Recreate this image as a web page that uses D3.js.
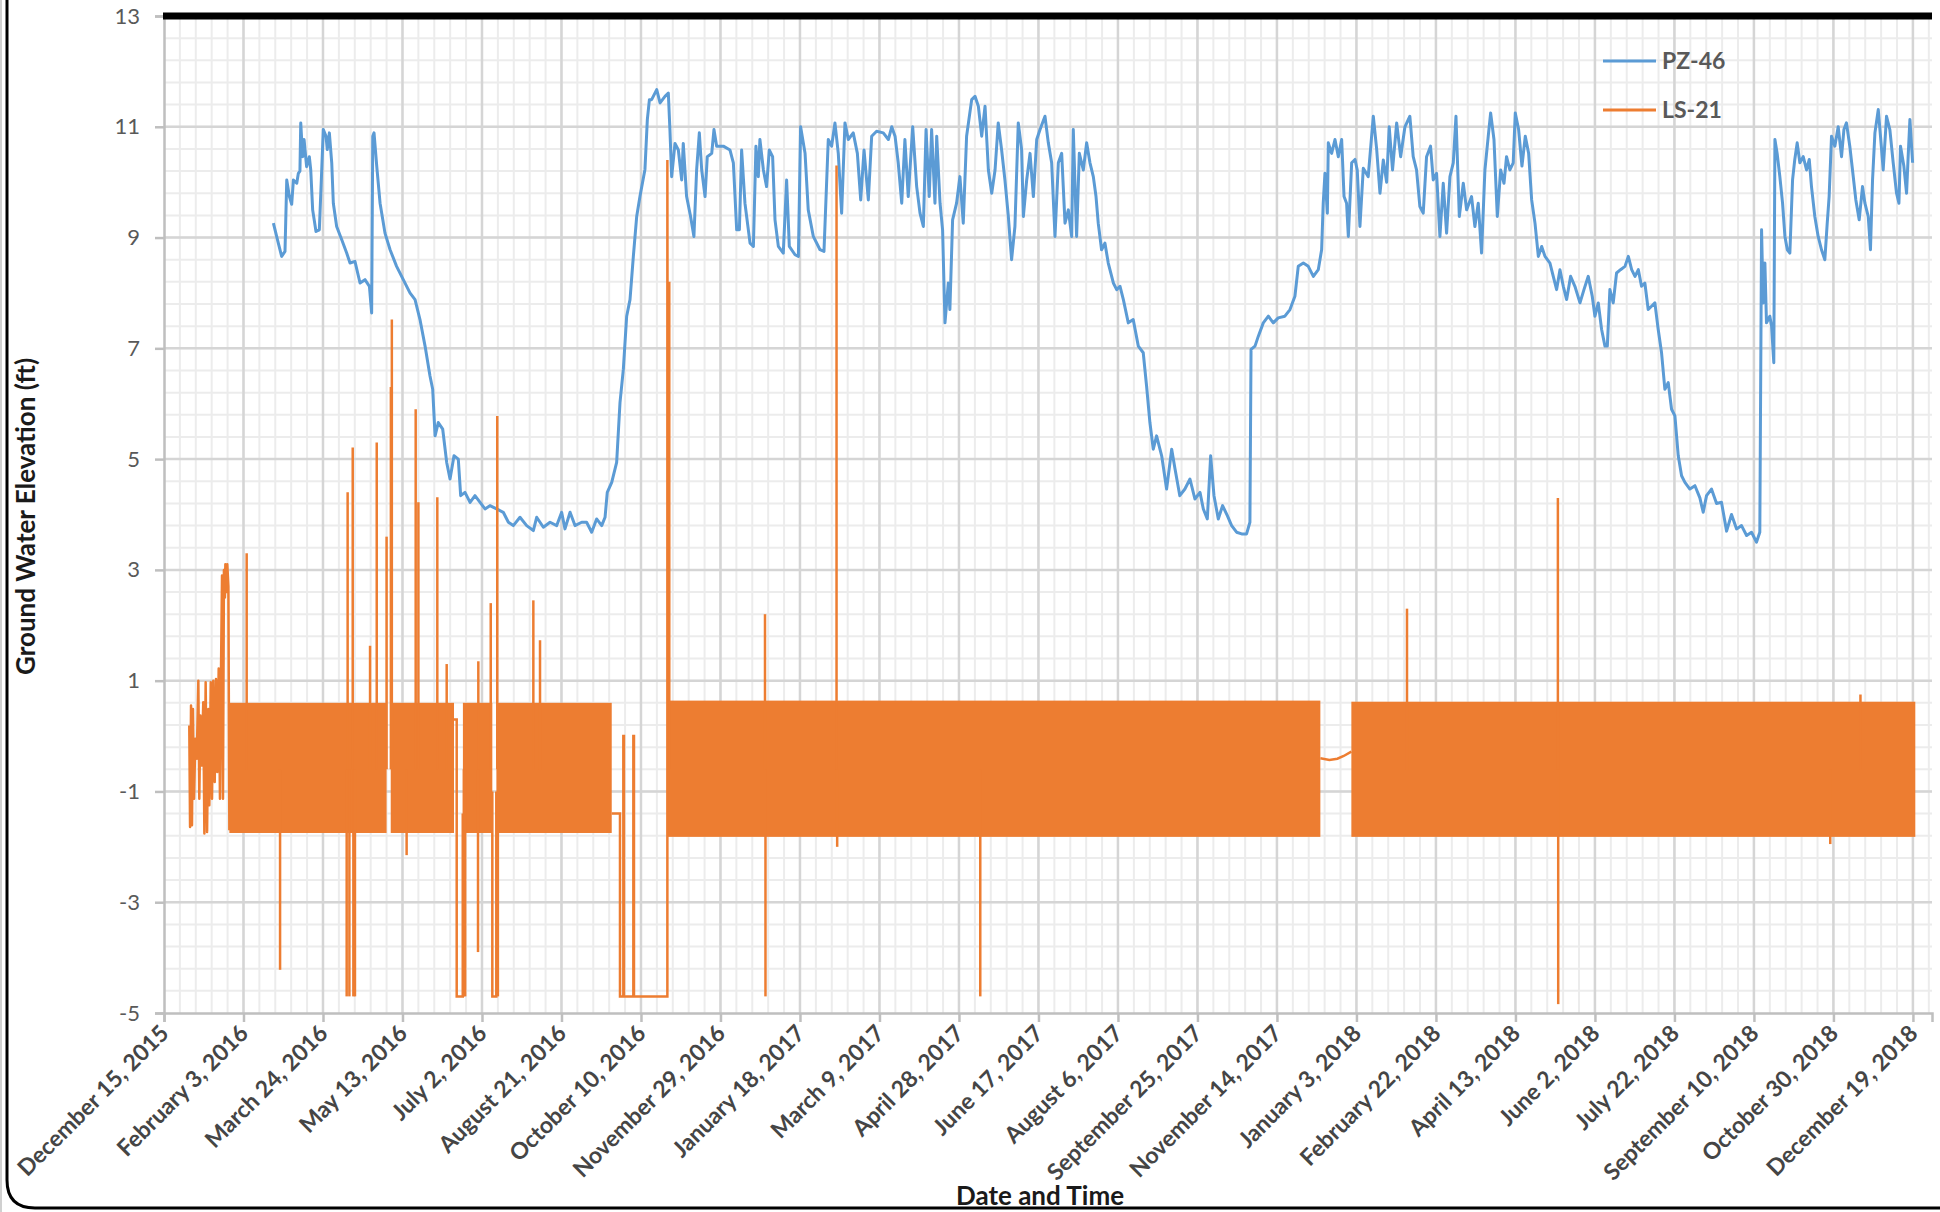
<!DOCTYPE html>
<html>
<head>
<meta charset="utf-8">
<script src="https://cdn.jsdelivr.net/npm/d3@7"></script>
<style>
  body { margin: 0; background: #fff; }
  svg { display: block; font-family: Lato, "Open Sans", sans-serif; }
</style>
</head>
<body>
<div id="chart"></div>
<script>
// x values are days counted from the first axis date
const startDate = "2015-12-15";
const endDate = "2018-12-31";
const tickDates = ["2015-12-15", "2016-02-03", "2016-03-24", "2016-05-13", "2016-07-02", "2016-08-21",
  "2016-10-10", "2016-11-29", "2017-01-18", "2017-03-09", "2017-04-28", "2017-06-17", "2017-08-06",
  "2017-09-25", "2017-11-14", "2018-01-03", "2018-02-22", "2018-04-13", "2018-06-02", "2018-07-22",
  "2018-09-10", "2018-10-30", "2018-12-19"];
const yTicks = [-5, -3, -1, 1, 3, 5, 7, 9, 11, 13];
const seriesNames = ["PZ-46", "LS-21"];

// PZ-46 [day, ft]
const pz46 = [
  [68.8,9.26],[71.9,8.9],[74,8.66],[76.1,8.75],[77.2,10.04],[78.8,9.75],[80.3,9.6],[81.4,10.04],[83.5,9.98],
  [84.5,10.16],[85.5,10.2],[86,11.07],[87.2,10.46],[88.1,10.77],[89.7,10.28],[91.4,10.46],[92.3,10.22],
  [93.5,9.5],[95.6,9.11],[97.7,9.14],[99.2,10.22],[100.2,10.95],[101.9,10.83],[102.7,10.59],[104,10.89],
  [105.5,10.35],[106.5,9.62],[108.6,9.2],[111.8,8.96],[114.9,8.72],[117,8.54],[120.1,8.57],[123.3,8.18],
  [126.4,8.24],[129.2,8.12],[130.6,7.64],[131.3,10.83],[132.1,10.89],[133.8,10.29],[135.9,9.62],[139,9.08],
  [142.2,8.78],[146.3,8.48],[150.5,8.24],[154.7,8.0],[157.9,7.88],[161,7.52],[164.2,7.04],[167.3,6.5],
  [169,6.26],[170.5,5.42],[172.5,5.66],[175.3,5.54],[177.8,4.94],[179.9,4.64],[182.4,5.06],[185.1,5.0],
  [186.6,4.34],[189.3,4.4],[192.5,4.22],[195.6,4.34],[198.8,4.22],[201.9,4.1],[205,4.16],[209.2,4.1],
  [213.4,4.04],[216.6,3.86],[219.7,3.8],[223.9,3.95],[228.1,3.8],[232.3,3.71],[234.4,3.95],[238.6,3.77],
  [242.8,3.86],[247,3.8],[250.1,4.04],[252.2,3.74],[255.4,4.04],[258.5,3.8],[262.7,3.86],[265.8,3.86],
  [269,3.68],[272.1,3.92],[275.3,3.8],[277.4,3.95],[278.8,4.4],[281.6,4.58],[284.7,4.94],[286.8,6.02],
  [288.9,6.62],[291,7.58],[293.1,7.88],[295.2,8.66],[297.3,9.38],[299.4,9.75],[302.5,10.23],[304,11.13],
  [305.3,11.49],[306.7,11.49],[309.9,11.67],[312,11.43],[315.1,11.55],[317.2,11.61],[318.2,10.95],
  [319.3,10.1],[321.4,10.7],[323.5,10.58],[325.6,10.04],[326.6,10.7],[328.7,9.74],[331.2,9.38],[333.3,9.02],
  [335,10.22],[336.7,10.89],[338.2,10.22],[340.3,9.74],[341.7,10.46],[344.5,10.52],[345.9,10.95],
  [347.6,10.65],[351.8,10.65],[356,10.58],[358.1,10.35],[360.2,9.14],[361.9,9.14],[363.3,10.58],
  [365.4,9.62],[368.6,8.9],[370.7,8.84],[372.3,10.65],[373.8,10.1],[374.8,10.77],[377,10.22],[379,9.92],
  [380.7,10.58],[382.8,10.46],[384.3,9.32],[386.4,8.84],[389.5,8.72],[391.6,10.04],[393.3,8.84],
  [396.9,8.69],[399,8.66],[400.4,11.0],[403.2,10.52],[405.2,9.5],[408.4,9.02],[412.6,8.78],[415.1,8.75],
  [417.8,10.77],[419.9,10.65],[422,11.07],[424.1,10.52],[426.2,9.44],[428.3,11.07],[430.4,10.77],
  [433.5,10.89],[436.1,10.52],[438.2,9.68],[440.3,10.58],[443,9.68],[445.1,10.83],[448.2,10.92],
  [452.4,10.89],[455.6,10.77],[457.7,11.0],[459.8,10.83],[461.8,10.35],[464,9.62],[466,10.77],[468.1,9.74],
  [470.9,11.0],[473.4,9.92],[475.5,9.44],[477.6,9.2],[479.3,10.95],[481.3,9.74],[482.8,10.95],[484.9,9.62],
  [486,10.83],[488.1,9.62],[489.7,9.14],[491.2,7.46],[493.3,8.18],[494.3,7.7],[496,9.32],[498.5,9.62],
  [500.6,10.1],[502.7,9.26],[504.8,10.83],[508,11.49],[510.1,11.55],[512.2,11.37],[514.3,10.83],
  [516.4,11.37],[518.5,10.22],[520.6,9.8],[522.7,10.22],[524.7,11.07],[526.8,10.59],[528.9,10.04],
  [531,9.4],[533.1,8.6],[535.2,9.2],[537.3,11.07],[539.4,10.59],[540.5,9.38],[542.6,10.04],[544.7,10.52],
  [546.8,9.74],[548.9,10.77],[551,10.95],[554.1,11.19],[556.2,10.71],[558.3,10.35],[560.4,9.02],
  [562.5,10.35],[564.6,10.52],[566.7,9.26],[568.8,9.5],[570.9,9.02],[571.9,10.95],[574,9.02],[575.7,10.52],
  [578.2,10.22],[580.3,10.71],[582.4,10.35],[584.5,10.1],[586.2,9.74],[587.6,9.26],[589.7,8.78],
  [591.8,8.9],[593.9,8.54],[597.1,8.18],[599.2,8.06],[601.3,8.12],[603.4,7.88],[606.5,7.46],[609.6,7.52],
  [612.8,7.04],[615.9,6.92],[618,6.32],[620.1,5.66],[622.2,5.18],[624.3,5.42],[627.5,5.06],[630.6,4.46],
  [633.8,5.18],[635.9,4.82],[638.9,4.34],[642.1,4.46],[645.3,4.64],[648.4,4.28],[651.6,4.4],[653.7,4.1],
  [656.2,3.92],[658.3,5.06],[660.4,4.34],[663.1,3.92],[665.8,4.16],[668.8,3.98],[671.5,3.8],[674.6,3.68],
  [677.8,3.65],[680.9,3.65],[683,3.86],[683.7,6.98],[686.2,7.04],[688.3,7.22],[691.4,7.46],[694.6,7.58],
  [697.7,7.46],[700.8,7.55],[705,7.58],[708.2,7.7],[711.3,7.94],[713.4,8.48],[716.6,8.54],[719.7,8.48],
  [722.9,8.3],[726,8.42],[728.1,8.78],[729.1,9.62],[730.2,10.16],[731.7,9.44],[732.3,10.71],[734.4,10.52],
  [736.5,10.77],[738.6,10.46],[740.7,10.77],[742.2,9.74],[743.8,9.62],[744.9,9.02],[747,10.35],
  [749.1,10.41],[750.5,10.22],[752.2,9.2],[754.3,10.25],[757.4,10.1],[760.6,11.19],[762.7,10.6],
  [764.8,9.8],[766.9,10.4],[769,10.0],[770.6,11.0],[772.7,10.22],[775.3,11.07],[777.8,10.46],[780.5,11.0],
  [783.6,11.19],[785.7,10.46],[787.8,10.22],[789.9,9.56],[792,9.44],[794.1,10.46],[796.6,10.65],
  [798.3,10.04],[800.4,10.16],[802.5,9.02],[804.6,9.98],[806.7,9.08],[808.8,10.1],[810.9,10.35],
  [812.6,11.19],[814.7,9.38],[817.2,9.98],[819.3,9.5],[822.4,9.74],[824.5,9.2],[826.6,9.62],[828.7,8.72],
  [830.8,10.22],[832.9,10.83],[834.4,11.25],[836.5,10.77],[838.6,9.38],[840.7,10.22],[842.8,9.98],
  [844.4,10.46],[846.5,10.22],[848.6,10.35],[849.9,11.25],[852,10.95],[854.1,10.29],[856.2,10.83],
  [858.3,10.52],[860.2,9.68],[862.3,9.26],[864.4,8.66],[866.5,8.84],[868.6,8.66],[871.7,8.54],[873.8,8.3],
  [875.9,8.06],[878,8.42],[880.1,8.12],[882.2,7.88],[884.7,8.3],[887.4,8.12],[890.6,7.82],[893.1,8.06],
  [895.8,8.3],[898.3,7.94],[900,7.58],[902.1,7.82],[904.2,7.34],[906.3,7.04],[907.8,7.04],[909.4,8.06],
  [911.5,7.82],[913.6,8.36],[916.1,8.42],[918.9,8.48],[921,8.66],[923.1,8.42],[925.2,8.3],[927.3,8.42],
  [929.3,8.12],[931.4,8.18],[933.5,7.7],[935.6,7.76],[937.7,7.82],[939.8,7.34],[941.9,6.92],[944,6.26],
  [946.1,6.38],[948.2,5.9],[950.3,5.78],[952.4,5.06],[954.5,4.7],[956.6,4.58],[959.7,4.46],[962.9,4.52],
  [966,4.3],[968.1,4.04],[970.2,4.34],[973.3,4.46],[976.5,4.2],[979.6,4.22],[982.8,3.7],[985.9,4.0],
  [989.1,3.74],[992.2,3.8],[995.4,3.62],[998.5,3.68],[1001.6,3.5],[1003.7,3.68],[1004.8,9.14],
  [1005.8,7.82],[1006.9,8.54],[1007.9,7.46],[1010,7.58],[1011.1,7.4],[1012.5,6.74],[1013.2,10.77],
  [1014.6,10.52],[1016.3,10.1],[1018,9.62],[1019.5,9.02],[1021,8.78],[1022.6,8.72],[1024.3,10.04],
  [1025.7,10.41],[1027.2,10.71],[1028.9,10.35],[1031,10.46],[1033.1,10.22],[1034.8,10.41],[1036.2,9.92],
  [1038.3,9.38],[1040.4,9.02],[1042.5,8.78],[1044.6,8.6],[1046.1,9.26],[1047.3,9.74],[1048.8,10.83],
  [1050.9,10.65],[1053,11.0],[1055.1,10.46],[1056.6,10.95],[1058.2,11.07],[1060.3,10.65],[1062,10.22],
  [1064.1,9.68],[1066.2,9.32],[1068.3,9.92],[1069.8,9.62],[1071.9,9.38],[1073.3,8.78],[1074.6,10.04],
  [1076.1,10.89],[1078.2,11.31],[1079.6,10.83],[1081.3,10.22],[1083.4,11.19],[1085.5,10.95],
  [1087.6,10.35],[1089.7,9.8],[1091.2,9.62],[1092.2,10.65],[1094.3,10.29],[1096,9.8],[1097,10.46],
  [1098.1,11.13],[1099.8,10.35]
];

// LS-21 first weeks [day, ft]
const ls21Start = [
  [15.9,0.19],[16.4,-1.64],[17,0.55],[17.6,-1.61],[18.2,0.49],[18.9,-1.13],[19.7,-0.05],[20.6,-0.41],
  [21.6,1.0],[22.2,-1.13],[22.9,0.37],[23.7,-0.53],[24.7,0.61],[25.4,-1.76],[26.2,0.97],[27.1,-1.73],
  [27.9,0.49],[28.5,-1.25],[29.4,0.97],[30.2,-1.13],[31,1.0],[31.9,-0.83],[32.7,1.03],[33.5,-0.65],
  [34.4,1.22],[35.2,-1.13],[35.9,1.28],[36.5,2.9],[37.1,-1.13],[37.7,3.0],[38.3,2.5],[38.6,3.1],
  [39.2,2.6],[39.8,3.1],[40.5,2.7],[41.1,-1.7]
];
// LS-21 logger oscillation: [from day, to day, low ft, high ft]
const ls21Bands = [
  [41.1,140.0,-1.75,0.6],[142.6,182.4,-1.75,0.6],[188.0,206.5,-1.75,0.6],[209.2,281.6,-1.75,0.6],
  [317.0,727.3,-1.82,0.64],[746.8,1101.5,-1.82,0.62]
];
// LS-21 readings between the oscillating runs [day, ft]
const ls21Links = [
  [[182.4,0.3],[184.1,0.3],[184.1,-4.7],[187.9,-4.7],[187.9,-1.4]],
  [[206.5,-1.0],[206.5,-4.7],[209.0,-4.7],[209.0,-1.0]],
  [[281.6,-1.4],[286.8,-1.4],[286.8,-4.7],[288.9,-4.7],[288.9,0.0],[289.3,0.0],[289.3,-4.7],[295.2,-4.7],
   [295.2,0.0],[295.6,0.0],[295.6,-4.7],[316.6,-4.7],[316.6,10.4],[317.0,-1.0]],
  [[727.3,-0.4],[733,-0.43],[738,-0.41],[742,-0.36],[746.8,-0.28]]
];
// LS-21 single excursions [day, ft]
const ls21Spikes = [
  [52,3.3],[73,-4.22],[114.9,-4.7],[115.5,4.4],[116.6,-4.7],[118.7,5.21],[119.1,-4.7],[120.1,-4.7],
  [129.6,1.63],[133.8,5.3],[140.0,3.6],[142.7,6.3],[143.3,7.52],[152.6,-2.15],[158.3,5.9],[160,4.22],
  [171.9,4.31],[177.8,1.3],[188.6,-4.7],[189.4,-4.7],[197.5,-3.9],[197.7,1.35],[205.5,2.4],[209.6,5.78],
  [210,-4.7],[232.3,2.45],[236.5,1.73],[317.8,8.2],[378,2.2],[378.3,-4.7],[423,10.3],[423.4,-2.0],
  [513.4,-4.7],[781.8,2.3],[876.7,4.3],[876.9,-4.84],[1048,-1.95],[1067,0.75]
];

const W = 1940, H = 1212;
const plotL = 164, plotR = 1932, plotT = 16, plotB = 1013;
const blue = "#5B9BD5", orange = "#ED7D31";

const parse = d3.utcParse("%Y-%m-%d");
const t0 = parse(startDate);
const day = d => new Date(t0.getTime() + d * 864e5);

const svg = d3.select("#chart").append("svg").attr("width", W).attr("height", H);

const x = d3.scaleUtc().domain([t0, parse(endDate)]).range([plotL, plotR]);
const y = d3.scaleLinear().domain([-5, 13]).range([plotB, plotT]);

// minor grid: 10 days, 0.4 ft
const grid = svg.append("g");
grid.selectAll(".mx").data(d3.range(10, 1113, 10)).join("line")
  .attr("x1", d => x(day(d))).attr("x2", d => x(day(d))).attr("y1", plotT).attr("y2", plotB)
  .attr("stroke", "#ececec").attr("stroke-width", 2);
grid.selectAll(".my").data(d3.range(-4.6, 13, 0.4)).join("line")
  .attr("x1", plotL).attr("x2", plotR).attr("y1", d => y(d)).attr("y2", d => y(d))
  .attr("stroke", "#ececec").attr("stroke-width", 2);
// major grid
grid.selectAll(".Mx").data(tickDates.slice(1)).join("line")
  .attr("x1", d => x(parse(d))).attr("x2", d => x(parse(d))).attr("y1", plotT).attr("y2", plotB)
  .attr("stroke", "#d5d5d5").attr("stroke-width", 2.5);
grid.selectAll(".My").data(yTicks.slice(1)).join("line")
  .attr("x1", plotL).attr("x2", plotR).attr("y1", d => y(d)).attr("y2", d => y(d))
  .attr("stroke", "#d5d5d5").attr("stroke-width", 2.5);

// axes
const yAxis = svg.append("g").attr("transform", `translate(${plotL},0)`)
  .call(d3.axisLeft(y).tickValues(yTicks).tickFormat(d => String(d)).tickSize(9).tickPadding(15));
const xAxis = svg.append("g").attr("transform", `translate(0,${plotB})`)
  .call(d3.axisBottom(x).tickValues(tickDates.map(parse)).tickFormat(d3.utcFormat("%B %-d, %Y")).tickSize(9));
[yAxis, xAxis].forEach(a => {
  a.attr("font-family", null).attr("font-size", null);
  a.select(".domain").attr("stroke", "#bfbfbf").attr("stroke-width", 2.5);
  a.selectAll(".tick line").attr("stroke", "#bfbfbf").attr("stroke-width", 2.5);
});
yAxis.selectAll("text").attr("font-size", 22).attr("fill", "#595959");
xAxis.selectAll("text").attr("font-size", 23).attr("font-weight", 700).attr("fill", "#454545")
  .attr("x", 0).attr("y", 0).attr("dy", "0.35em").attr("text-anchor", "end")
  .attr("transform", "translate(0,16) rotate(-45)");

// top border of plot
svg.append("line").attr("x1", plotL - 1).attr("x2", plotR).attr("y1", plotT).attr("y2", plotT)
  .attr("stroke", "#000").attr("stroke-width", 7);

// PZ-46
const line = d3.line().x(d => x(day(d[0]))).y(d => y(d[1]));
svg.append("path").datum(pz46).attr("d", line).attr("fill", "none")
  .attr("stroke", blue).attr("stroke-width", 3).attr("stroke-linejoin", "round");

// LS-21
const ls = svg.append("g");
ls.append("path").datum(ls21Start).attr("d", line).attr("fill", "none")
  .attr("stroke", orange).attr("stroke-width", 2.5).attr("stroke-linejoin", "round");
ls.selectAll(".band").data(ls21Bands).join("rect")
  .attr("x", d => x(day(d[0]))).attr("width", d => x(day(d[1])) - x(day(d[0])))
  .attr("y", d => y(d[3])).attr("height", d => y(d[2]) - y(d[3])).attr("fill", orange);
ls.selectAll(".link").data(ls21Links).join("path").attr("d", line).attr("fill", "none")
  .attr("stroke", orange).attr("stroke-width", 2.5);
ls.selectAll(".spike").data(ls21Spikes).join("line")
  .attr("x1", d => x(day(d[0]))).attr("x2", d => x(day(d[0])))
  .attr("y1", y(-0.6)).attr("y2", d => y(d[1]))
  .attr("stroke", orange).attr("stroke-width", 2.5);

// legend
const legend = svg.append("g").selectAll("g").data(seriesNames).join("g")
  .attr("transform", (d, i) => `translate(1603,${61 + i * 49})`);
legend.append("line").attr("x1", 0).attr("x2", 53)
  .attr("stroke", (d, i) => i ? orange : blue).attr("stroke-width", 3);
legend.append("text").attr("x", 59).attr("dy", "0.35em").text(d => d)
  .attr("font-size", 23).attr("font-weight", 700).attr("fill", "#595959");

// axis titles
svg.append("text").attr("transform", `translate(26,${(plotT + plotB) / 2 + 2}) rotate(-90)`)
  .attr("text-anchor", "middle").attr("dy", "0.35em").attr("font-size", 26).attr("font-weight", 700)
  .attr("fill", "#1a1a1a").text("Ground Water Elevation (ft)");
svg.append("text").attr("x", 1040).attr("y", 1205).attr("text-anchor", "middle")
  .attr("font-size", 26).attr("font-weight", 700).attr("fill", "#1a1a1a").text("Date and Time");

// chart frame
svg.append("line").attr("x1", 1).attr("x2", 1).attr("y1", 0).attr("y2", H).attr("stroke", "#d0d0d0").attr("stroke-width", 2);
svg.append("path").attr("d", `M7,0 L7,1180 Q7,1208 35,1208 L${W},1208`)
  .attr("fill", "none").attr("stroke", "#000").attr("stroke-width", 3);
</script>
</body>
</html>
